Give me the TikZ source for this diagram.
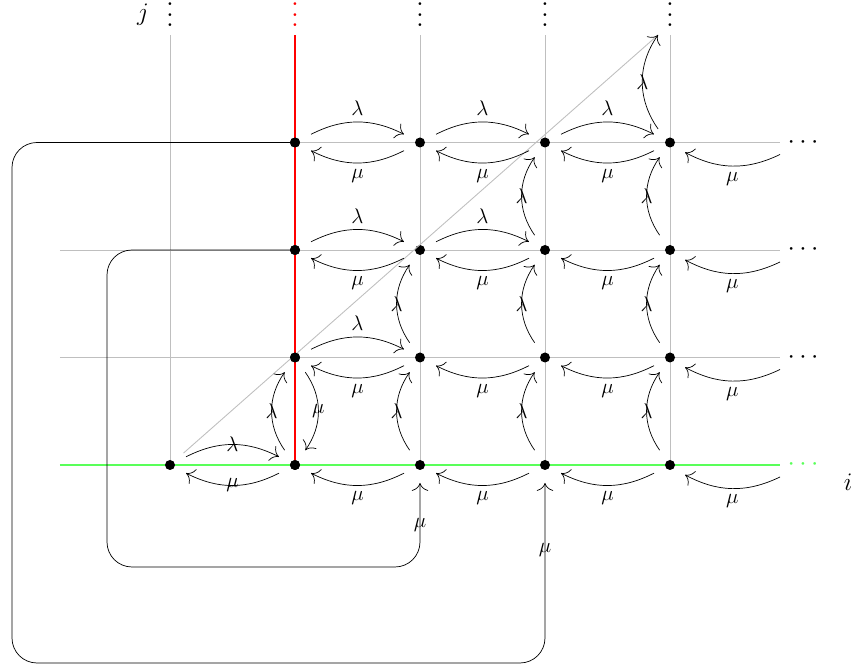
\documentclass[tikz,border=0pt]{standalone}
\usepackage{xcolor}
\usepackage{tikz}
\usetikzlibrary{arrows.meta}

\begin{document}
\begin{tikzpicture}[
    state/.style={circle, fill, inner sep=0pt, minimum size=0.2cm, outer sep=0.26cm},
    arrow/.style={-{To[scale=1.8]}},
    gridline/.style={lightgray, line width=0.5pt},
    hbend/.style={bend left=27},
    vbend/.style={bend left=35},
    updots/.style={scale=1.5, inner sep=0pt, anchor=base, text height=8.5pt},
    rightdots/.style={scale=1.5, inner sep=1pt}
]
\useasboundingbox (-3.4,-4.04) rectangle (13.68,9.3);

% grid
\draw[gridline] (-2.2,2.15) -- (12.2,2.15);
\draw[gridline] (-2.2,4.3) -- (12.2,4.3);
\draw[gridline] (-2.2,6.45) -- (12.2,6.45);
\draw[gridline] (0,0) -- (0,8.6);
\draw[gridline] (5,0) -- (5,8.6);
\draw[gridline] (7.5,0) -- (7.5,8.6);
\draw[gridline] (10,0) -- (10,8.6);
\draw[green!65, line width=0.9pt] (-2.2,0) -- (12.2,0);

% states
\node[state] (n00) at (0,0) {};
\node[state] (n10) at (2.5,0) {};
\node[state] (n20) at (5,0) {};
\node[state] (n30) at (7.5,0) {};
\node[state] (n40) at (10,0) {};
\node[state] (n11) at (2.5,2.15) {};
\node[state] (n21) at (5,2.15) {};
\node[state] (n31) at (7.5,2.15) {};
\node[state] (n41) at (10,2.15) {};
\node[state] (n12) at (2.5,4.3) {};
\node[state] (n22) at (5,4.3) {};
\node[state] (n32) at (7.5,4.3) {};
\node[state] (n42) at (10,4.3) {};
\node[state] (n13) at (2.5,6.45) {};
\node[state] (n23) at (5,6.45) {};
\node[state] (n33) at (7.5,6.45) {};
\node[state] (n43) at (10,6.45) {};
\coordinate (diagend) at (9.76,8.6);

% dots and axis names
\node[updots] (up0) at (0,8.76) {$\vdots$};
\node[updots, red] (up1) at (2.5,8.76) {$\vdots$};
\node[updots] (up2) at (5,8.76) {$\vdots$};
\node[updots] (up3) at (7.5,8.76) {$\vdots$};
\node[updots] (up4) at (10,8.76) {$\vdots$};
\node[rightdots, green!65] (right0) at (12.66,0) {$\cdots$};
\node[rightdots] (right1) at (12.66,2.15) {$\cdots$};
\node[rightdots] (right2) at (12.66,4.3) {$\cdots$};
\node[rightdots] (right3) at (12.66,6.45) {$\cdots$};
\node[font=\Large] (jlabel) at (-0.54,9.0) {$j$};
\node[font=\Large] (ilabel) at (13.56,-0.34) {$i$};
\coordinate (in0) at (12.2,-0.24);
\coordinate (in1) at (12.2,1.91);
\coordinate (in2) at (12.2,4.06);
\coordinate (in3) at (12.2,6.21);

\draw[gridline] (n00) -- (diagend);

\begin{scope}[every node/.style={font=\large}]
% row 0
\draw[arrow] (n00) to[hbend] node {$\lambda$} (n10);
\draw[arrow] (n10) to[hbend] node {$\mu$} (n00);
\draw[arrow] (n20) to[hbend] node[below] {$\mu$} (n10);
\draw[arrow] (n30) to[hbend] node[below] {$\mu$} (n20);
\draw[arrow] (n40) to[hbend] node[below] {$\mu$} (n30);
\draw[arrow] (in0) to[hbend] node[below] {$\mu$} (n40);

% row 1
\draw[arrow] (n11) to[hbend] node[above] {$\lambda$} (n21);
\draw[arrow] (n21) to[hbend] node[below] {$\mu$} (n11);
\draw[arrow] (n31) to[hbend] node[below] {$\mu$} (n21);
\draw[arrow] (n41) to[hbend] node[below] {$\mu$} (n31);
\draw[arrow] (in1) to[hbend] node[below] {$\mu$} (n41);

% row 2
\draw[arrow] (n12) to[hbend] node[above] {$\lambda$} (n22);
\draw[arrow] (n22) to[hbend] node[above] {$\lambda$} (n32);
\draw[arrow] (n22) to[hbend] node[below] {$\mu$} (n12);
\draw[arrow] (n32) to[hbend] node[below] {$\mu$} (n22);
\draw[arrow] (n42) to[hbend] node[below] {$\mu$} (n32);
\draw[arrow] (in2) to[hbend] node[below] {$\mu$} (n42);

% row 3
\draw[arrow] (n13) to[hbend] node[above] {$\lambda$} (n23);
\draw[arrow] (n23) to[hbend] node[above] {$\lambda$} (n33);
\draw[arrow] (n33) to[hbend] node[above] {$\lambda$} (n43);
\draw[arrow] (n23) to[hbend] node[below] {$\mu$} (n13);
\draw[arrow] (n33) to[hbend] node[below] {$\mu$} (n23);
\draw[arrow] (n43) to[hbend] node[below] {$\mu$} (n33);
\draw[arrow] (in3) to[hbend] node[below] {$\mu$} (n43);

% upward moves
\draw[arrow] (n10) to[vbend] node {$\lambda$} (n11);
\draw[arrow] (n11) to[vbend] node {$\mu$} (n10);
\draw[arrow] (n20) to[vbend] node {$\lambda$} (n21);
\draw[arrow] (n21) to[vbend] node {$\lambda$} (n22);
\draw[arrow] (n30) to[vbend] node {$\lambda$} (n31);
\draw[arrow] (n31) to[vbend] node {$\lambda$} (n32);
\draw[arrow] (n32) to[vbend] node {$\lambda$} (n33);
\draw[arrow] (n40) to[vbend] node {$\lambda$} (n41);
\draw[arrow] (n41) to[vbend] node {$\lambda$} (n42);
\draw[arrow] (n42) to[vbend] node {$\lambda$} (n43);
\draw[arrow] (n43) to[vbend] node {$\lambda$} (diagend);

% jumps back to the bottom row
\draw[arrow, rounded corners=0.5cm] (n12.center) -- (-1.26,4.3) -- (-1.26,-2.04) -- (5,-2.04) -- node {$\mu$} (n20);
\draw[arrow, rounded corners=0.5cm] (n13.center) -- (-3.16,6.45) -- (-3.16,-3.96) -- (7.5,-3.96) -- node[pos=0.63] {$\mu$} (n30);
\end{scope}

% red column on top
\draw[red, line width=0.6pt] (2.5,0) -- (2.5,8.6);
\node[state] at (n10) {};
\node[state] at (n11) {};
\node[state] at (n12) {};
\node[state] at (n13) {};

\end{tikzpicture}
\end{document}
